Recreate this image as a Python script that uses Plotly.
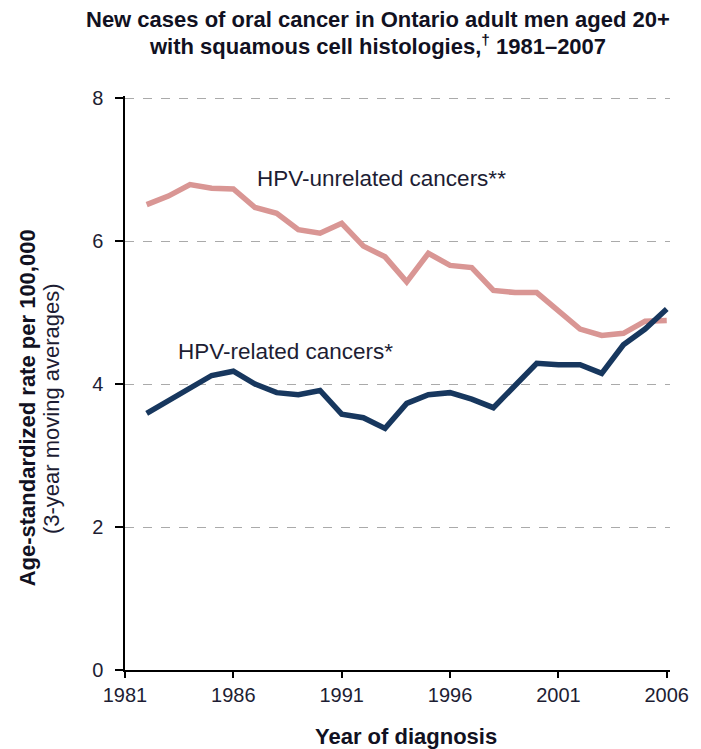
import plotly.graph_objects as go

years = list(range(1982, 2007))
hpv_unrelated = [6.51, 6.63, 6.79, 6.74, 6.73, 6.47, 6.39, 6.16, 6.11, 6.25,
                 5.93, 5.78, 5.43, 5.83, 5.66, 5.63, 5.31, 5.28, 5.28, 5.03,
                 4.77, 4.68, 4.71, 4.88, 4.89]
hpv_related = [3.59, 3.77, 3.95, 4.12, 4.18, 4.00, 3.88, 3.85, 3.91, 3.58,
               3.53, 3.38, 3.73, 3.85, 3.88, 3.79, 3.67, 3.98, 4.29, 4.27,
               4.27, 4.15, 4.55, 4.77, 5.05]
x_ticks = [1981, 1986, 1991, 1996, 2001, 2006]
y_ticks = [0, 2, 4, 6, 8]

PINK = "#D99694"
NAVY = "#17375E"
TXT = "#1d1d33"
FONT = "Liberation Sans, Arial, sans-serif"

# page body margin offset (8px) compensation
OFF = 8
W, H = 701 - OFF, 749 - OFF

# desired reference pixel positions
X0_PX, X1_PX = 125, 674      # 1981, 2006
Y0_PX, Y8_PX = 670, 98       # 0, 8
px_per_year = (X1_PX - X0_PX) / 25
px_per_unit = (Y0_PX - Y8_PX) / 8
xmin, xmax = 1981, 2006.15
ymin, ymax = 0, 8.03

ml = X0_PX - OFF
plot_w = (xmax - xmin) * px_per_year
mr = W - ml - plot_w
plot_bottom = Y0_PX - OFF
mb = H - plot_bottom
plot_h = (ymax - ymin) * px_per_unit
mt = plot_bottom - plot_h

def px2paper_x(px):
    return (px - OFF - ml) / plot_w

def py2paper_y(py):
    return (plot_bottom - (py - OFF)) / plot_h

fig = go.Figure()
fig.add_trace(go.Scatter(x=years, y=hpv_unrelated, mode="lines",
                         line=dict(color=PINK, width=5.5), showlegend=False))
fig.add_trace(go.Scatter(x=years, y=hpv_related, mode="lines",
                         line=dict(color=NAVY, width=5.5), showlegend=False))

fig.update_layout(
    width=W, height=H,
    margin=dict(l=ml, r=mr, t=mt, b=mb, pad=0),
    plot_bgcolor="white", paper_bgcolor="white",
    font=dict(family=FONT, color=TXT),
    xaxis=dict(range=[xmin, xmax], tickvals=x_ticks, ticktext=[str(v) for v in x_ticks],
               showgrid=False, zeroline=False, showline=True, linecolor="black", linewidth=1.5,
               ticks="outside", ticklen=6, tickcolor="black", tickwidth=1.5,
               tickfont=dict(size=20, family=FONT, color=TXT)),
    yaxis=dict(range=[ymin, ymax], tickvals=y_ticks, showgrid=True, gridcolor="#AAAAAA",
               griddash="dash", gridwidth=1, zeroline=False, showline=True,
               linecolor="black", linewidth=1.5, ticks="outside", ticklen=8,
               tickcolor="black", tickwidth=1.5, ticklabelstandoff=8,
               tickfont=dict(size=20, family=FONT, color=TXT)),
)

ann = []
ann.append(dict(text="<b>New cases of oral cancer in Ontario adult men aged 20+</b>",
                xref="paper", yref="paper", x=px2paper_x(381), y=py2paper_y(19),
                xanchor="center", yanchor="middle", showarrow=False,
                font=dict(size=22, color="#111122")))
ann.append(dict(text="<b>with squamous cell histologies,<sup>†</sup> 1981–2007</b>",
                xref="paper", yref="paper", x=px2paper_x(381), y=py2paper_y(45),
                xanchor="center", yanchor="middle", showarrow=False,
                font=dict(size=22, color="#111122")))
ann.append(dict(text="HPV-unrelated cancers**", x=1987.0, y=6.88, xref="x", yref="y",
                xanchor="left", yanchor="middle", showarrow=False,
                font=dict(size=22.5, color=TXT)))
ann.append(dict(text="HPV-related cancers*", x=1983.37, y=4.45, xref="x", yref="y",
                xanchor="left", yanchor="middle", showarrow=False,
                font=dict(size=22.5, color=TXT)))
ann.append(dict(text="<b>Age-standardized rate per 100,000</b>", textangle=-90,
                xref="paper", yref="paper", x=px2paper_x(26), y=py2paper_y(408),
                xanchor="center", yanchor="middle", showarrow=False,
                font=dict(size=22, color="#111122")))
ann.append(dict(text="(3-year moving averages)", textangle=-90,
                xref="paper", yref="paper", x=px2paper_x(50), y=py2paper_y(408),
                xanchor="center", yanchor="middle", showarrow=False,
                font=dict(size=22, color=TXT)))
ann.append(dict(text="<b>Year of diagnosis</b>",
                xref="paper", yref="paper", x=px2paper_x(410), y=py2paper_y(737),
                xanchor="center", yanchor="middle", showarrow=False,
                font=dict(size=22, color="#111122")))
fig.update_layout(annotations=ann)

fig.write_html("out.html")
